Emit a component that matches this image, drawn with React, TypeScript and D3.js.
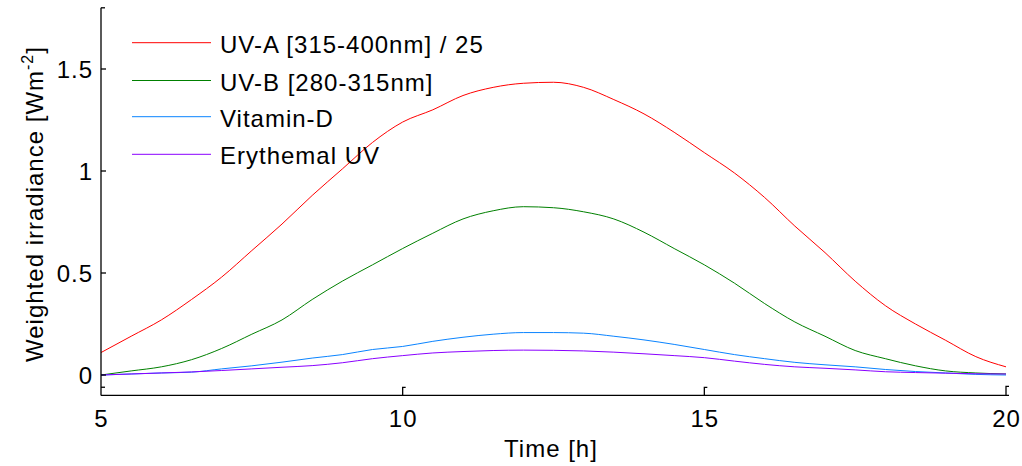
import React from "react";
import * as d3 from "d3";

const hours = [5, 5.5, 6, 6.5, 7, 7.5, 8, 8.5, 9, 9.5, 10, 10.5, 11, 11.5, 12, 12.5, 13, 13.5, 14, 14.5, 15, 15.5, 16, 16.5, 17, 17.5, 18, 18.5, 19, 19.5, 20];
const uvaValues = [0.11, 0.19, 0.27, 0.37, 0.48, 0.61, 0.74, 0.88, 1.01, 1.14, 1.24, 1.3, 1.37, 1.41, 1.43, 1.435, 1.41, 1.35, 1.28, 1.19, 1.09, 0.99, 0.87, 0.73, 0.6, 0.46, 0.34, 0.25, 0.17, 0.09, 0.04];
const uvbValues = [0.0, 0.02, 0.04, 0.075, 0.13, 0.2, 0.27, 0.37, 0.46, 0.54, 0.62, 0.695, 0.765, 0.805, 0.825, 0.82, 0.8, 0.765, 0.7, 0.62, 0.54, 0.45, 0.35, 0.26, 0.19, 0.12, 0.08, 0.045, 0.02, 0.01, 0.005];
const vitDValues = [0.0, 0.005, 0.01, 0.014, 0.03, 0.045, 0.063, 0.083, 0.1, 0.125, 0.14, 0.165, 0.185, 0.2, 0.208, 0.208, 0.205, 0.19, 0.172, 0.15, 0.125, 0.1, 0.08, 0.062, 0.05, 0.04, 0.027, 0.017, 0.01, 0.003, 0.0];
const eryValues = [0.0, 0.005, 0.01, 0.015, 0.022, 0.03, 0.038, 0.046, 0.06, 0.08, 0.095, 0.108, 0.115, 0.12, 0.122, 0.121, 0.118, 0.112, 0.104, 0.095, 0.085, 0.068, 0.052, 0.04, 0.033, 0.025, 0.016, 0.012, 0.009, 0.006, 0.005];

const seriesNames = ["UV-A [315-400nm] / 25", "UV-B [280-315nm]", "Vitamin-D", "Erythemal UV"];
const seriesColors = ["#ff0000", "#008000", "#0a84ff", "#8a00ff"];
const seriesValues = [uvaValues, uvbValues, vitDValues, eryValues];

const xTicks = [5, 10, 15, 20];
const yTicks = [0, 0.5, 1, 1.5];

const W = 1022;
const H = 466;
const left = 101;
const right = 1006;
const top = 7.8;
const bottom = 395.4;
const FONT = "'Liberation Sans', Arial, sans-serif";
const FS = 24;
const LS = 1;

export default function App() {
  const x = d3.scaleLinear().domain([5, 20]).range([left, right]);
  const y = d3.scaleLinear().domain([-0.1, 1.8]).range([bottom, top]);
  const line = d3
    .line<number>()
    .x((_, i) => x(hours[i]))
    .y((d) => y(d))
    .curve(d3.curveMonotoneX);

  const legendY = [42.7, 80.5, 116.7, 154.3];

  return (
    <div style={{ position: "absolute", left: 0, top: 0 }}>
      <svg width={W} height={H} style={{ display: "block", background: "#fff" }} fontFamily={FONT}>
        <rect x={0} y={0} width={W} height={H} fill="#fff" />
        {seriesValues.map((vals, k) => (
          <path key={k} d={line(vals) || ""} fill="none" stroke={seriesColors[k]} strokeWidth={1} />
        ))}
        <g stroke="#000" strokeWidth={1.3} fill="none">
          <line x1={left} y1={top} x2={left} y2={bottom} />
          <line x1={left} y1={top} x2={left + 4} y2={top} />
          <line x1={left} y1={bottom} x2={right} y2={bottom} />
          {yTicks.map((t) => (
            <line key={t} x1={left} y1={y(t)} x2={left + 5} y2={y(t)} />
          ))}
          <line x1={left} y1={y(-0.06)} x2={left + 4} y2={y(-0.06)} />
          {xTicks.slice(1, 3).map((t) => (
            <path key={t} d={`M${x(t)},${bottom} V${bottom - 8} h3`} />
          ))}
          <path d={`M${x(20) + 3},${bottom - 9} h-3 V${bottom} h3`} />
        </g>
        {yTicks.map((t) => (
          <text key={t} x={93} y={y(t) + 8.5} textAnchor="end" fontSize={FS} letterSpacing={LS} fill="#000">
            {String(t)}
          </text>
        ))}
        {xTicks.map((t) => (
          <text key={t} x={x(t) + 0.5} y={427} textAnchor="middle" fontSize={FS} letterSpacing={LS} fill="#000">
            {String(t)}
          </text>
        ))}
        <text x={551} y={457} textAnchor="middle" fontSize={FS} letterSpacing={LS} fill="#000">
          Time [h]
        </text>
        <text transform="translate(43,204) rotate(-90)" textAnchor="middle" fontSize={FS} letterSpacing={LS} fill="#000">
          Weighted irradiance [Wm
          <tspan fontSize={16} dy={-10}>-2</tspan>
          <tspan dy={10}>]</tspan>
        </text>
        {seriesNames.map((name, k) => (
          <g key={name}>
            <line x1={132} x2={211} y1={legendY[k]} y2={legendY[k]} stroke={seriesColors[k]} strokeWidth={1} />
            <text x={220} y={legendY[k] + 10} fontSize={FS} letterSpacing={LS} fill="#000">
              {name}
            </text>
          </g>
        ))}
      </svg>
    </div>
  );
}
